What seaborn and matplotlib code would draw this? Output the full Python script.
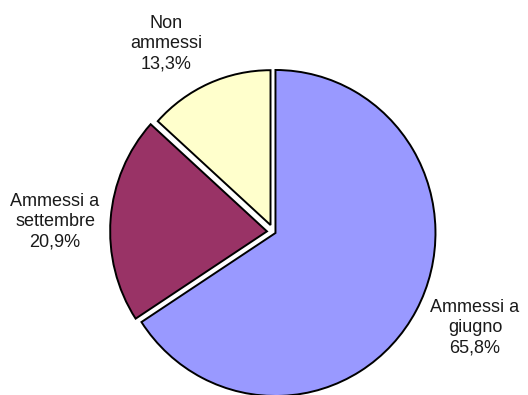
import matplotlib
matplotlib.use("Agg")
import matplotlib.pyplot as plt
import seaborn as sns

# dati del grafico
categorie = ["Ammessi a\ngiugno", "Ammessi a\nsettembre", "Non\nammessi"]
percentuali = [65.8, 20.9, 13.3]
colori = ["#9999FF", "#993366", "#FFFFCC"]
esplosione = [0.014, 0.041, 0.046]

sns.set_theme(style="white")
plt.rcParams['font.family'] = ['Liberation Sans', 'DejaVu Sans']

fig = plt.figure(figsize=(5.28, 3.95), dpi=100)
ax = fig.add_axes([0, 0, 1, 1])
spicchi, _ = ax.pie(percentuali, explode=esplosione, colors=sns.color_palette(colori),
                    startangle=90, counterclock=False,
                    wedgeprops=dict(edgecolor="black", linewidth=1.4))
# le fette staccate risultano un po' piu piccole nell'originale
spicchi[1].set_radius(0.98)
spicchi[2].set_radius(0.95)

# scala in pixel: centro (273.5, 232), raggio 160 x 163
ax.set_aspect("auto")
ax.set_xlim(-273.5 / 160, (528 - 273.5) / 160)
ax.set_ylim((231.9 - 395) / 163, 231.9 / 163)
ax.axis("off")

# etichette
pos_etichette = [(475, 328), (55, 222), (166, 44)]
for nome, val, (px, py) in zip(categorie, percentuali, pos_etichette):
    testo = nome + "\n" + f"{val:.1f}%".replace(".", ",")
    fig.text(px / 528, 1 - py / 395, testo, ha="center", va="center",
             fontsize=13, linespacing=1.25, color="#1a1a1a")

fig.savefig("out.png", dpi=100)
